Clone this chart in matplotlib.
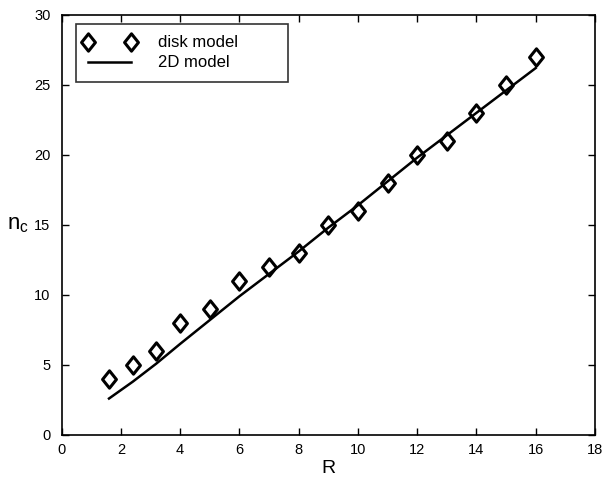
import numpy as np
import matplotlib
matplotlib.use('Agg')
import matplotlib.pyplot as plt
from matplotlib.path import Path
from matplotlib.legend_handler import HandlerLine2D

plt.rcParams['font.family'] = ['Liberation Sans', 'DejaVu Sans']

# disk model points
R_disk = [1.6, 2.4, 3.2, 4, 5, 6, 7, 8, 9, 10, 11, 12, 13, 14, 15, 16]
nc_disk = [4, 5, 6, 8, 9, 11, 12, 13, 15, 16, 18, 20, 21, 23, 25, 27]
# 2D model curve
R_2d = [1.6, 2.4, 3.2, 4, 5, 6, 7, 8, 9, 10, 11, 12, 13, 14, 15, 16]
nc_2d = [2.6, 3.8, 5.1, 6.5, 8.2, 9.9, 11.5, 13.1, 14.8, 16.4, 18.1, 19.8, 21.4, 23.0, 24.6, 26.2]

# slightly squat diamond (MATLAB style)
diamond = Path([(0, 1), (0.8, 0), (0, -1), (-0.8, 0), (0, 1)],
               [Path.MOVETO, Path.LINETO, Path.LINETO, Path.LINETO, Path.CLOSEPOLY])

fig = plt.figure(figsize=(6.04, 4.79), dpi=100)
ax = fig.add_axes([0.102, 0.092, 0.883, 0.877])

ax.plot(R_disk, nc_disk, ls='none', marker=diamond, ms=12.5, mfc='none', mec='k', mew=2.2, label='disk model')
ax.plot(R_2d, nc_2d, '-', color='k', lw=1.8, label='2D model')

ax.set_xlim(0, 18); ax.set_ylim(0, 30)
ax.set_xticks(np.arange(0, 19, 2)); ax.set_yticks(np.arange(0, 31, 5))
ax.tick_params(direction='in', top=True, right=True, labelsize=10.5, length=5, width=1, pad=6)
ax.tick_params(axis='y', pad=8)
for s in ax.spines.values():
    s.set_linewidth(1.2)
ax.set_xlabel('R', fontsize=14, labelpad=2)
ax.set_ylabel(r'n$_\mathregular{c}$', fontsize=16, rotation=0, labelpad=12, va='center')

leg = ax.legend(loc='upper left', bbox_to_anchor=(0.027, 0.843, 0.397, 0.136), mode='expand',
                numpoints=2, handlelength=2.6, fontsize=12, frameon=True, fancybox=False,
                borderpad=0.7, labelspacing=0.3, handletextpad=1.6, borderaxespad=0,
                handler_map={plt.Line2D: HandlerLine2D(marker_pad=0)})
leg.get_frame().set_edgecolor('k'); leg.get_frame().set_linewidth(1.2)

plt.savefig('out.png', dpi=100)
